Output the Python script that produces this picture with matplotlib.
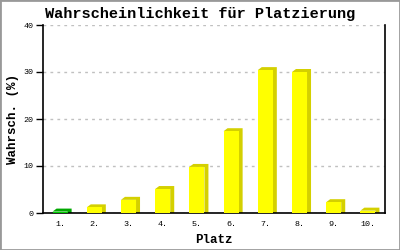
import matplotlib.pyplot as plt
import numpy as np
from matplotlib.patches import Rectangle

# Daten
plaetze = ['1.', '2.', '3.', '4.', '5.', '6.', '7.', '8.', '9.', '10.']
werte = [0.3, 1.2, 2.8, 5.1, 9.8, 17.4, 30.4, 30.0, 2.3, 0.5]
farben = ['#00cc00'] + ['#ffff00'] * 9
seiten = ['#00a800'] + ['#d4d000'] * 9

plt.rcParams['font.family'] = ['Liberation Mono', 'DejaVu Sans Mono']

fig = plt.figure(figsize=(4, 2.5), dpi=100)
fig.patches.append(Rectangle((0, 0), 1, 1, transform=fig.transFigure,
                             fill=False, edgecolor='#999999', linewidth=2))
ax = fig.add_axes([43 / 400, 37 / 250, 342 / 400, 188 / 250])

ax.set_xlim(-0.5, 9.5)
ax.set_ylim(0, 40)

# Pixel -> Dateneinheiten für den 3D-Effekt
dx = 4 / 34.2
dy = 3 / 4.7
b = 0.44

x = np.arange(len(plaetze))
for xi, h, f, s in zip(x, werte, farben, seiten):
    x0, x1 = xi - b / 2, xi + b / 2
    ax.fill([x0, x0 + dx, x1 + dx, x1 + dx, x1, x1],
            [h, h + dy, h + dy, 0, 0, h], color=s, lw=0, zorder=2)
ax.bar(x, werte, width=b, color=farben, linewidth=0, zorder=3)

ax.set_yticks([0, 10, 20, 30, 40])
ax.set_xticks(x)
ax.set_xticklabels(plaetze)
ax.tick_params(axis='y', length=5, width=1, labelsize=6, pad=2)
ax.tick_params(axis='x', length=0, labelsize=6, pad=6)
ax.yaxis.grid(True, linestyle=(0, (2, 3)), color='#c0c0c0', linewidth=1)
ax.set_axisbelow(True)
ax.spines['top'].set_visible(False)
for sp in ['left', 'right', 'bottom']:
    ax.spines[sp].set_linewidth(1.2)

ax.set_xlabel('Platz', fontsize=9, fontweight='bold', labelpad=4)
ax.set_ylabel('Wahrsch. (%)', fontsize=9, fontweight='bold', labelpad=3)
fig.text(0.5, 0.945, 'Wahrscheinlichkeit für Platzierung', ha='center',
         va='center', fontsize=11, fontweight='bold')

plt.savefig('out.png', dpi=100)
